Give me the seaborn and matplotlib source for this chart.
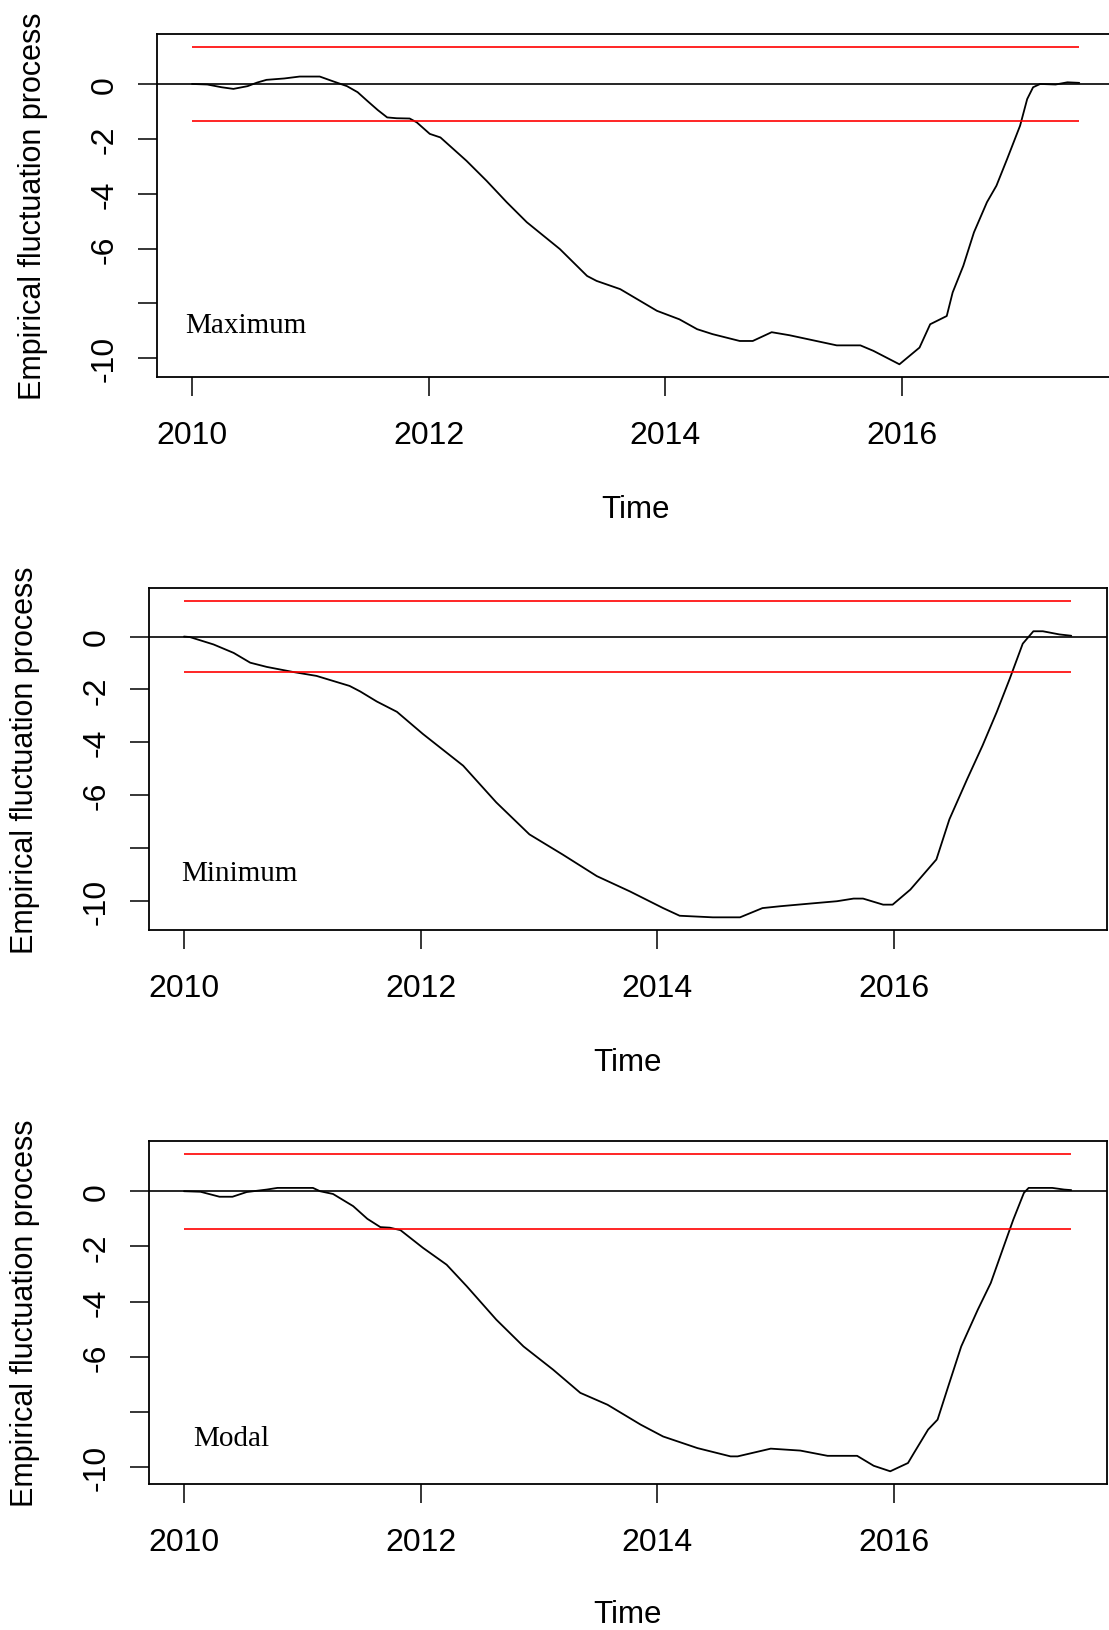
import numpy as np
import pandas as pd
import matplotlib
matplotlib.use('Agg')  # no display
import matplotlib.pyplot as plt
import seaborn as sns

# empirical fluctuation processes (time in years)
max_time = [2010.00, 2010.13, 2010.25, 2010.35, 2010.47, 2010.55, 2010.63, 2010.78,
            2010.91, 2011.08, 2011.19, 2011.31, 2011.40, 2011.48, 2011.57, 2011.65,
            2011.73, 2011.84, 2011.90, 2012.01, 2012.10, 2012.32, 2012.49, 2012.66,
            2012.83, 2013.11, 2013.34, 2013.42, 2013.62, 2013.93, 2014.12, 2014.27,
            2014.40, 2014.63, 2014.74, 2014.90, 2015.05, 2015.45, 2015.65, 2015.76,
            2015.98, 2016.15, 2016.24, 2016.38, 2016.43, 2016.52, 2016.61, 2016.72,
            2016.80, 2016.89, 2017.00, 2017.06, 2017.11, 2017.17, 2017.30, 2017.40,
            2017.50]
max_value = [0.00, -0.02, -0.12, -0.18, -0.08, 0.05, 0.15, 0.20,
             0.27, 0.27, 0.10, -0.08, -0.30, -0.61, -0.95, -1.22,
             -1.25, -1.26, -1.40, -1.82, -1.95, -2.80, -3.53, -4.31,
             -5.04, -6.02, -7.00, -7.18, -7.48, -8.27, -8.58, -8.94,
             -9.12, -9.37, -9.37, -9.05, -9.16, -9.53, -9.53, -9.73,
             -10.22, -9.61, -8.76, -8.46, -7.60, -6.63, -5.41, -4.31,
             -3.71, -2.74, -1.52, -0.55, -0.12, 0.00, -0.02, 0.06,
             0.04]

min_time = [2010.00, 2010.05, 2010.25, 2010.42, 2010.56, 2010.70, 2010.92, 2011.12,
            2011.40, 2011.49, 2011.63, 2011.80, 2012.02, 2012.36, 2012.64, 2012.92,
            2013.20, 2013.49, 2013.77, 2014.05, 2014.19, 2014.47, 2014.70, 2014.89,
            2015.04, 2015.29, 2015.52, 2015.66, 2015.74, 2015.91, 2015.99, 2016.14,
            2016.25, 2016.36, 2016.47, 2016.62, 2016.75, 2016.87, 2016.98, 2017.09,
            2017.18, 2017.26, 2017.40, 2017.50]
min_value = [0.00, -0.02, -0.30, -0.62, -0.99, -1.15, -1.34, -1.49,
             -1.87, -2.08, -2.46, -2.85, -3.69, -4.89, -6.28, -7.49,
             -8.25, -9.07, -9.65, -10.28, -10.57, -10.63, -10.63, -10.28,
             -10.21, -10.11, -10.02, -9.92, -9.92, -10.15, -10.15, -9.58,
             -9.01, -8.44, -6.92, -5.40, -4.13, -2.86, -1.60, -0.27,
             0.20, 0.20, 0.08, 0.03]

modal_time = [2010.00, 2010.14, 2010.30, 2010.41, 2010.53, 2010.70, 2010.79, 2011.09,
              2011.15, 2011.26, 2011.43, 2011.55, 2011.66, 2011.74, 2011.83, 2012.02,
              2012.22, 2012.39, 2012.64, 2012.87, 2013.12, 2013.35, 2013.58, 2013.86,
              2014.05, 2014.34, 2014.62, 2014.68, 2014.96, 2015.21, 2015.44, 2015.69,
              2015.83, 2015.97, 2016.12, 2016.17, 2016.29, 2016.37, 2016.46, 2016.57,
              2016.71, 2016.82, 2016.93, 2017.01, 2017.10, 2017.14, 2017.34, 2017.44,
              2017.50]
modal_value = [0.00, -0.02, -0.20, -0.20, -0.03, 0.06, 0.12, 0.12,
               0.00, -0.10, -0.54, -1.00, -1.30, -1.32, -1.41, -2.05,
               -2.66, -3.44, -4.65, -5.62, -6.46, -7.30, -7.73, -8.45,
               -8.88, -9.30, -9.60, -9.60, -9.32, -9.39, -9.58, -9.58,
               -9.94, -10.14, -9.84, -9.48, -8.63, -8.27, -7.07, -5.62,
               -4.29, -3.32, -1.99, -1.03, -0.06, 0.12, 0.12, 0.06,
               0.04]

panel_names = ['Maximum', 'Minimum', 'Modal']
bound_time = [2010.0, 2017.5]
bound_level = 1.358
x_ticks = [2010, 2012, 2014, 2016]
y_ticks = [0, -2, -4, -6, -8, -10]
y_tick_labels = ['0', '-2', '-4', '-6', '', '-10']

sns.set_style('ticks', {'axes.edgecolor': 'black', 'xtick.color': 'black',
                        'ytick.color': 'black', 'text.color': 'black',
                        'axes.labelcolor': 'black'})
plt.rcParams['font.family'] = ['Liberation Sans', 'DejaVu Sans']

W, H = 1109, 1631
fig = plt.figure(figsize=(W / 100, H / 100), dpi=100)

# panel boxes in pixels: left, top, bottom, x of ylabel centre, y of "Time" centre
boxes = [(156.5, 35, 378, 33.5, 510),
         (148.5, 589, 931, 25.5, 1063),
         (148.5, 1142, 1485, 25.5, 1615)]
label_pos = [(2009.94, -9.05), (2009.98, -9.23), (2010.08, -9.18)]
px_per_year = 118.3

series = [(max_time, max_value), (min_time, min_value), (modal_time, modal_value)]

t0, t1 = bound_time
xpad = 0.04 * (t1 - t0)
xlim = (t0 - xpad, t1 + xpad)
width = (xlim[1] - xlim[0]) * px_per_year

for (t, v), name, (left, top, bottom, ylab_x, time_y), (lx, ly) in zip(series, panel_names, boxes, label_pos):
    height = bottom - top
    ax = fig.add_axes([left / W, 1 - bottom / H, width / W, height / H])
    df = pd.DataFrame({'time': t, 'value': v})
    sns.lineplot(data=df, x='time', y='value', ax=ax, color='black', lw=1.3,
                 estimator=None, sort=False)
    ax.axhline(0, color='black', lw=1.2)
    ax.hlines([bound_level, -bound_level], bound_time[0], bound_time[1],
              color='#ff0000', lw=1.2)

    lo = min(min(v), -bound_level)
    hi = max(max(v), bound_level)
    ypad = 0.04 * (hi - lo)
    ax.set_xlim(*xlim)
    ax.set_ylim(lo - ypad, hi + ypad)

    ax.set_xticks(x_ticks)
    ax.set_xticklabels([str(x) for x in x_ticks])
    ax.set_yticks(y_ticks)
    ax.set_yticklabels(y_tick_labels, rotation=90, va='center')
    ax.tick_params(axis='both', direction='out', length=13.7, width=1.1,
                   labelsize=23)
    ax.tick_params(axis='x', pad=17)
    ax.tick_params(axis='y', pad=13)
    for s in ax.spines.values():
        s.set_linewidth(1.3)
        s.set_visible(True)

    ax.set_xlabel('Time', fontsize=22.5, va='center')
    ax.xaxis.set_label_coords(0.5, (bottom - time_y) / height)
    ax.set_ylabel('Empirical fluctuation process', fontsize=22, va='center')
    ax.yaxis.set_label_coords((ylab_x - left) / width, 0.5)

    ax.text(lx, ly, name, family=['Liberation Serif', 'DejaVu Serif'],
            fontsize=21, ha='left', va='baseline')

fig.savefig('out.png', dpi=100)
